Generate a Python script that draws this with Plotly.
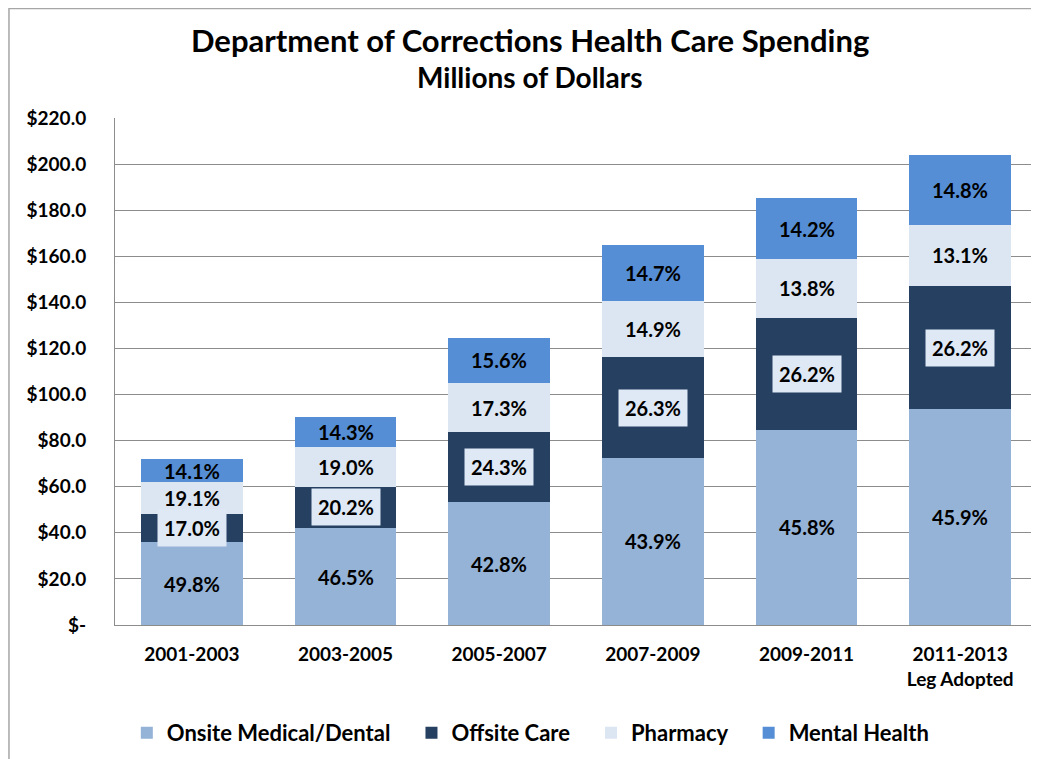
import plotly.graph_objects as go

# ── Data ─────────────────────────────────────────────────────────────────────
periods = ["2001-2003", "2003-2005", "2005-2007", "2007-2009", "2009-2011", "2011-2013"]
period_labels = ["2001-2003", "2003-2005", "2005-2007", "2007-2009", "2009-2011",
                 "2011-2013<br>Leg Adopted"]

onsite   = [35.9, 41.9, 53.3, 72.6, 84.8, 93.6]
offsite  = [12.2, 18.2, 30.3, 43.5, 48.5, 53.4]
pharmacy = [13.8, 17.1, 21.5, 24.6, 25.6, 26.7]
mental   = [10.2, 12.9, 19.4, 24.3, 26.3, 30.2]

onsite_pct   = ["49.8%", "46.5%", "42.8%", "43.9%", "45.8%", "45.9%"]
offsite_pct  = ["17.0%", "20.2%", "24.3%", "26.3%", "26.2%", "26.2%"]
pharmacy_pct = ["19.1%", "19.0%", "17.3%", "14.9%", "13.8%", "13.1%"]
mental_pct   = ["14.1%", "14.3%", "15.6%", "14.7%", "14.2%", "14.8%"]

y_ticks = [0, 20, 40, 60, 80, 100, 120, 140, 160, 180, 200, 220]
y_tick_text = ["$-"] + [f"${v:.1f}" for v in y_ticks[1:]]

# ── Style ────────────────────────────────────────────────────────────────────
C_ONSITE   = "#95b3d7"
C_OFFSITE  = "#254061"
C_PHARMACY = "#dce6f2"
C_MENTAL   = "#558ed5"
GRID       = "#8c8c8c"
FONT       = "Lato"
LABEL_FONT = dict(family=FONT, size=20, color="#000000", weight="bold")
PAD        = "\u00a0" * 3   # extra room between legend entries

series = [
    ("Onsite Medical/Dental", onsite,   onsite_pct,   C_ONSITE),
    ("Offsite Care",          offsite,  offsite_pct,  C_OFFSITE),
    ("Pharmacy",              pharmacy, pharmacy_pct, C_PHARMACY),
    ("Mental Health",         mental,   mental_pct,   C_MENTAL),
]

fig = go.Figure()
base = [0.0] * len(periods)
for k, (name, vals, pcts, color) in enumerate(series):
    legend_name = name + (PAD if k < len(series) - 1 else "")
    fig.add_bar(x=periods, y=vals, name=legend_name, marker_color=color,
                marker_line_width=0)
    # segment labels, centred in each stacked piece
    for i, p in enumerate(periods):
        boxed = name == "Offsite Care"
        fig.add_annotation(
            x=p, y=base[i] + vals[i] / 2, text=pcts[i],
            showarrow=False, font=LABEL_FONT,
            bgcolor="#dfe8f5" if boxed else None,
            borderpad=6 if boxed else 0,
        )
    base = [b + v for b, v in zip(base, vals)]

# titles
fig.add_annotation(xref="paper", yref="paper", x=0.45, y=1.154,
                   text="<b>Department of Corrections Health Care Spending</b>",
                   showarrow=False, yanchor="middle",
                   font=dict(family=FONT, size=31, color="#000000"))
fig.add_annotation(xref="paper", yref="paper", x=0.45, y=1.081,
                   text="<b>Millions of Dollars</b>",
                   showarrow=False, yanchor="middle",
                   font=dict(family=FONT, size=28, color="#000000"))

# outer chart frame (only top/left visible in the reference crop)
fig.add_shape(type="rect", xref="paper", yref="paper",
              x0=-0.115, x1=1.2, y0=-0.3, y1=1.216,
              line=dict(color="#a6a6a6", width=1.5), layer="below")

fig.update_layout(
    width=1039, height=759,
    barmode="stack",
    bargap=0.34,
    paper_bgcolor="white",
    plot_bgcolor="white",
    font=dict(family=FONT, color="#000000"),
    margin=dict(l=107, r=10, t=110, b=142, autoexpand=False),
    xaxis=dict(
        tickvals=periods, ticktext=period_labels,
        tickfont=dict(family=FONT, size=19, weight="bold"),
        showgrid=False, zeroline=False, automargin=False,
        showline=True, linecolor=GRID, linewidth=1,
        ticks="", ticklabelstandoff=12,
    ),
    yaxis=dict(
        range=[0, 220], tickvals=y_ticks, ticktext=y_tick_text,
        tickfont=dict(family=FONT, size=19, weight="bold"),
        showgrid=True, gridcolor=GRID, gridwidth=1, automargin=False,
        zeroline=False, showline=True, linecolor=GRID, linewidth=1,
        ticks="", ticklabelstandoff=24,
    ),
    legend=dict(
        orientation="h", x=0.451, xanchor="center", y=-0.213, yanchor="middle",
        font=dict(family=FONT, size=22, weight="bold"),
        traceorder="normal", itemwidth=30,
    ),
    showlegend=True,
)

fig.write_html("out.html")
